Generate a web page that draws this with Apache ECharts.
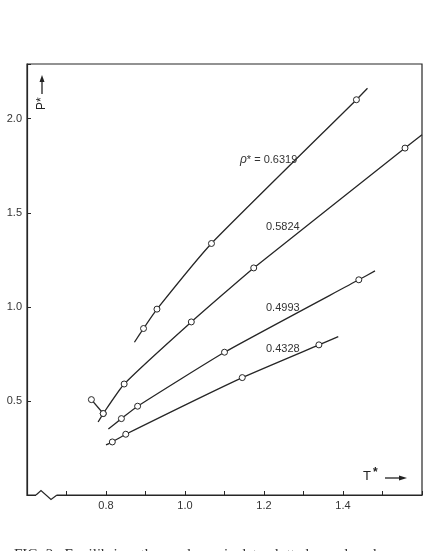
<!DOCTYPE html>
<html>
<head>
<meta charset="utf-8">
<script src="https://cdn.jsdelivr.net/npm/echarts@6/dist/echarts.min.js"></script>
<style>
  html, body { margin: 0; padding: 0; background: #fff; }
  #chart { width: 425px; height: 551px; }
</style>
</head>
<body>
<div id="chart"></div>
<script>
'use strict';

// reduced temperature / pressure
// first and last entries of each curve are the drawn line ends (no circle)
const rhoLabels = ['0.6319', '0.5824', '0.4993', '0.4328'];

const T_6319 = [0.872, 0.895, 0.929, 1.067, 1.434, 1.462];
const P_6319 = [0.812, 0.885, 0.988, 1.337, 2.101, 2.162];

const T_5824 = [0.780, 0.793, 0.846, 1.016, 1.174, 1.557, 1.600];
const P_5824 = [0.388, 0.433, 0.590, 0.920, 1.207, 1.844, 1.915];

const T_4993 = [0.806, 0.839, 0.880, 1.100, 1.440, 1.481];
const P_4993 = [0.351, 0.406, 0.472, 0.759, 1.144, 1.191];

const T_4328 = [0.800, 0.816, 0.850, 1.145, 1.339, 1.388];
const P_4328 = [0.266, 0.282, 0.323, 0.624, 0.798, 0.842];

// short off-curve pair near the low end of 0.5824
const T_stub = [0.763, 0.793];
const P_stub = [0.507, 0.433];

const xTickLabels = ['0.8', '1.0', '1.2', '1.4'];
const yTickLabels = ['0.5', '1.0', '1.5', '2.0'];

const ink = '#262626';
const font = 'Liberation Sans';

function curve(name, ts, ps, markEnds) {
  const data = ts.map((t, i) => {
    const end = !markEnds && (i === 0 || i === ts.length - 1);
    return end ? { value: [t, ps[i]], symbol: 'none' } : [t, ps[i]];
  });
  return {
    name: name,
    type: 'line',
    data: data,
    smooth: 0.15,
    showAllSymbol: true,
    symbol: 'circle',
    symbolSize: 6,
    lineStyle: { color: ink, width: 1.3 },
    itemStyle: { color: '#fff', borderColor: ink, borderWidth: 1 },
    emphasis: { disabled: true },
    z: 3,
  };
}

const chart = echarts.init(document.getElementById('chart'), null, { renderer: 'canvas' });

chart.setOption({
  animation: false,
  backgroundColor: '#fff',
  grid: {
    left: 27,
    right: -7,
    top: 64,
    bottom: 56,
    show: true,
    borderColor: ink,
    borderWidth: 1.2,
  },
  xAxis: {
    type: 'value',
    min: 0.6,
    max: 1.6,
    interval: 0.1,
    splitLine: { show: false },
    axisLine: { lineStyle: { color: ink, width: 1.2 } },
    axisTick: { inside: true, length: 4, lineStyle: { color: ink } },
    axisLabel: {
      margin: 5,
      color: '#333',
      fontFamily: font,
      fontSize: 11,
      formatter: (v) => {
        const s = v.toFixed(1);
        return xTickLabels.indexOf(s) >= 0 ? s : '';
      },
    },
  },
  yAxis: {
    type: 'value',
    min: 0,
    max: 2.291,
    interval: 0.5,
    splitLine: { show: false },
    axisLine: { lineStyle: { color: ink, width: 1.2 } },
    axisTick: { inside: true, length: 4, lineStyle: { color: ink } },
    axisLabel: {
      margin: 5,
      color: '#333',
      fontFamily: font,
      fontSize: 11,
      formatter: (v) => {
        const s = v.toFixed(1);
        return yTickLabels.indexOf(s) >= 0 && Math.abs(v * 2 - Math.round(v * 2)) < 1e-6 ? s : '';
      },
    },
  },
  series: [
    curve(rhoLabels[0], T_6319, P_6319),
    curve(rhoLabels[1], T_5824, P_5824),
    curve(rhoLabels[2], T_4993, P_4993),
    curve(rhoLabels[3], T_4328, P_4328),
    curve('stub', T_stub, P_stub, true),
  ],
  graphic: [
    // axis break on T*
    { type: 'rect', shape: { x: 36, y: 492, width: 21, height: 6 }, style: { fill: '#fff' }, z: 100 },
    {
      type: 'polyline',
      shape: { points: [[36, 495], [41, 490.5], [51, 499.5], [57, 495]] },
      style: { stroke: ink, lineWidth: 1.2, fill: null },
      z: 101,
    },
    // curve labels
    {
      type: 'text', left: 240, top: 154, z: 50,
      style: {
        text: '{r|ρ}{s|*}{n| = 0.6319}',
        rich: {
          r: { fontFamily: font, fontSize: 12, fontStyle: 'italic', fill: '#333' },
          s: { fontFamily: font, fontSize: 11, fill: '#333', verticalAlign: 'top' },
          n: { fontFamily: font, fontSize: 11, fill: '#333' },
        },
      },
    },
    { type: 'text', left: 266, top: 221, z: 50, style: { text: rhoLabels[1], fill: '#333', font: '11px "' + font + '"' } },
    { type: 'text', left: 266, top: 302, z: 50, style: { text: rhoLabels[2], fill: '#333', font: '11px "' + font + '"' } },
    { type: 'text', left: 266, top: 343, z: 50, style: { text: rhoLabels[3], fill: '#333', font: '11px "' + font + '"' } },
    // P* axis title with arrow
    {
      type: 'text', x: 36, y: 110, rotation: Math.PI / 2, z: 50,
      style: { text: 'P*', fill: '#222', font: '12px "' + font + '"' },
    },
    { type: 'line', shape: { x1: 42, y1: 94, x2: 42, y2: 80 }, style: { stroke: '#222', lineWidth: 1.3 }, z: 50 },
    { type: 'polygon', shape: { points: [[42, 75], [39.5, 82], [44.5, 82]] }, style: { fill: '#222' }, z: 50 },
    // T* axis title with arrow
    { type: 'text', left: 363, top: 470, z: 50, style: { text: 'T', fill: '#222', font: '13px "' + font + '"' } },
    { type: 'text', left: 373, top: 467, z: 50, style: { text: '*', fill: '#222', font: 'bold 12px "' + font + '"' } },
    { type: 'line', shape: { x1: 385, y1: 478, x2: 400, y2: 478 }, style: { stroke: '#222', lineWidth: 1.3 }, z: 50 },
    { type: 'polygon', shape: { points: [[407, 478], [399, 475.5], [399, 480.5]] }, style: { fill: '#222' }, z: 50 },
    // caption, cut off by the page edge
    {
      type: 'text', left: 14, top: 548, z: 50,
      style: { text: 'FIG. 2.  Equilibrium thermodynamic data plotted as reduced', fill: '#333', font: '15px "Liberation Serif"' },
    },
  ],
});
</script>
</body>
</html>
